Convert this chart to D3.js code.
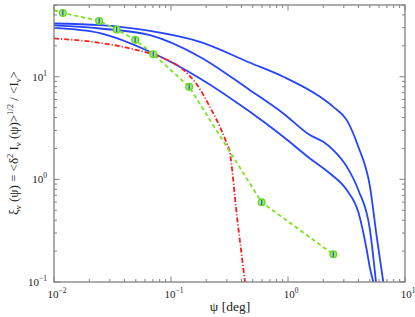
<!DOCTYPE html>
<html>
<head>
<meta charset="utf-8">
<script src="https://cdn.jsdelivr.net/npm/d3@7"></script>
<style>
  body { margin: 0; background: #fff; }
  svg { display: block; }
</style>
</head>
<body>
<div id="chart"></div>
<script>
// curve values (psi in deg, xi dimensionless)
var topX = [0.01, 0.0247, 0.0661, 0.177, 0.473, 0.912, 1.88, 2.44, 3.18, 3.99, 5.02, 5.73, 6.52];
var topY = [33.0, 31.8, 28.0, 21.9, 13.7, 10.0, 6.37, 5.09, 3.78, 2.08, 0.85, 0.276, 0.1];

var midX = [0.01, 0.0247, 0.0661, 0.177, 0.473, 0.912, 1.54, 2.00, 2.44, 3.18, 3.99, 5.02, 5.65];
var midY = [31.6, 29.5, 25.4, 15.6, 7.40, 4.39, 2.70, 2.32, 1.93, 1.33, 0.787, 0.321, 0.1];

var lowX = [0.01, 0.0247, 0.0661, 0.177, 0.473, 0.912, 1.54, 2.29, 3.18, 3.99, 4.71, 5.02, 5.36];
var lowY = [29.9, 26.6, 17.5, 9.63, 4.55, 2.60, 1.60, 1.14, 0.787, 0.48, 0.205, 0.136, 0.1];

var redX = [0.01, 0.0247, 0.0492, 0.0806, 0.124, 0.170, 0.220, 0.262, 0.299, 0.315, 0.3665, 0.429];
var redY = [23.6, 21.4, 18.4, 15.6, 12.0, 8.10, 4.84, 3.25, 2.26, 1.93, 0.433, 0.1];

var obsX = [0.0119, 0.0243, 0.0343, 0.0494, 0.0706, 0.143, 0.596, 2.44];
var obsY = [41.9, 35.0, 28.9, 22.9, 16.6, 7.97, 0.597, 0.186];
var obsStartX = 0.01, obsStartY = 44.5;   // dashed line reaches the left frame

var xDecades = [0.01, 0.1, 1, 10];
var yDecades = [0.1, 1, 10];

var width = 415, height = 317;
var margin = {top: 5, right: 10, bottom: 35, left: 54};
var w = width - margin.left - margin.right;
var h = height - margin.top - margin.bottom;

var x = d3.scaleLog().domain([0.01, 10]).range([0, w]);
var y = d3.scaleLog().domain([0.1, 50]).range([h, 0]);

var svg = d3.select("#chart").append("svg")
    .attr("width", width)
    .attr("height", height);

svg.append("defs").append("clipPath")
    .attr("id", "clip")
    .append("rect")
    .attr("width", w)
    .attr("height", h);

var g = svg.append("g")
    .attr("transform", "translate(" + margin.left + "," + margin.top + ")");

var line = d3.line()
    .x(function (d) { return x(d[0]); })
    .y(function (d) { return y(d[1]); });

var smooth = d3.line()
    .curve(d3.curveMonotoneX)
    .x(function (d) { return x(d[0]); })
    .y(function (d) { return y(d[1]); });

var plot = g.append("g").attr("clip-path", "url(#clip)");

// model curves
[[topX, topY], [midX, midY], [lowX, lowY]].forEach(function (s) {
    plot.append("path")
        .datum(d3.zip(s[0], s[1]))
        .attr("d", smooth)
        .attr("fill", "none")
        .attr("stroke", "#2544ff")
        .attr("stroke-width", 1.8);
});

plot.append("path")
    .datum(d3.zip(redX, redY))
    .attr("d", smooth)
    .attr("fill", "none")
    .attr("stroke", "#ff1c1c")
    .attr("stroke-width", 1.8)
    .attr("stroke-dasharray", "5,2,1.2,2");

var obs = [[obsStartX, obsStartY]].concat(d3.zip(obsX, obsY));
plot.append("path")
    .datum(obs)
    .attr("d", line)
    .attr("fill", "none")
    .attr("stroke", "#7de21e")
    .attr("stroke-width", 1.8)
    .attr("stroke-dasharray", "4,3");

var marks = plot.selectAll(".obs")
    .data(d3.zip(obsX, obsY))
    .enter().append("g")
    .attr("transform", function (d) { return "translate(" + x(d[0]) + "," + y(d[1]) + ")"; });

marks.append("circle")
    .attr("r", 3.4)
    .attr("fill", "#9bee55")
    .attr("stroke", "#5fd81a")
    .attr("stroke-width", 1.2);

marks.append("line")
    .attr("y1", -2.6).attr("y2", 2.6)
    .attr("stroke", "#2b48ff")
    .attr("stroke-width", 1.2);

// ticks inside the frame on all four sides
var axisColor = "#808080";
var xMinor = x.ticks().filter(function (v) { return xDecades.indexOf(v) < 0; });
var yMinor = y.ticks().filter(function (v) { return yDecades.indexOf(v) < 0 && v <= 50; });

function tickLines(vals, len, horizontal) {
    vals.forEach(function (v) {
        if (horizontal) {
            var px = x(v);
            g.append("line").attr("x1", px).attr("x2", px).attr("y1", h).attr("y2", h - len)
                .attr("stroke", axisColor);
            g.append("line").attr("x1", px).attr("x2", px).attr("y1", 0).attr("y2", len)
                .attr("stroke", axisColor);
        } else {
            var py = y(v);
            g.append("line").attr("x1", 0).attr("x2", len).attr("y1", py).attr("y2", py)
                .attr("stroke", axisColor);
            g.append("line").attr("x1", w).attr("x2", w - len).attr("y1", py).attr("y2", py)
                .attr("stroke", axisColor);
        }
    });
}
tickLines(xMinor, 3, true);
tickLines(xDecades, 5.5, true);
tickLines(yMinor, 3, false);
tickLines(yDecades, 5.5, false);

g.append("rect")
    .attr("width", w)
    .attr("height", h)
    .attr("fill", "none")
    .attr("stroke", axisColor)
    .attr("stroke-width", 1.3);

var serif = "'Liberation Serif', 'DejaVu Serif', serif";

function powLabel(sel, v) {
    var e = Math.round(Math.log10(v));
    sel.append("tspan").text("10");
    sel.append("tspan").attr("dy", -5).attr("font-size", 7.5).text(e < 0 ? "\u2212" + (-e) : e);
}

xDecades.forEach(function (v) {
    var t = g.append("text")
        .attr("x", x(v) + 3)
        .attr("y", h + 16)
        .attr("text-anchor", "middle")
        .attr("font-family", serif)
        .attr("font-size", 11)
        .attr("fill", "#222");
    powLabel(t, v);
});

yDecades.forEach(function (v) {
    var t = g.append("text")
        .attr("x", -7)
        .attr("y", y(v) + 4)
        .attr("text-anchor", "end")
        .attr("font-family", serif)
        .attr("font-size", 11)
        .attr("fill", "#222");
    powLabel(t, v);
});

svg.append("text")
    .attr("x", 230)
    .attr("y", 311)
    .attr("text-anchor", "middle")
    .attr("font-family", serif)
    .attr("font-size", 13.5)
    .attr("fill", "#222")
    .text("\u03c8 [deg]");

var yl = svg.append("text")
    .attr("transform", "translate(18,143) rotate(-90)")
    .attr("text-anchor", "middle")
    .attr("font-family", serif)
    .attr("font-size", 13)
    .attr("fill", "#222");
yl.append("tspan").text("\u03be");
yl.append("tspan").attr("dy", 3).attr("font-size", 8.5).text("\u03bd");
yl.append("tspan").attr("dy", -3).text(" (\u03c8) = <\u03b4");
yl.append("tspan").attr("dy", -5).attr("font-size", 8.5).text("2");
yl.append("tspan").attr("dy", 5).text(" I");
yl.append("tspan").attr("dy", 3).attr("font-size", 8.5).text("\u03bd");
yl.append("tspan").attr("dy", -3).text(" (\u03c8)>");
yl.append("tspan").attr("dy", -5).attr("font-size", 8.5).text("1/2");
yl.append("tspan").attr("dy", 5).text(" / <I");
yl.append("tspan").attr("dy", 3).attr("font-size", 8.5).text("\u03bd");
yl.append("tspan").attr("dy", -3).text(">");
</script>
</body>
</html>
